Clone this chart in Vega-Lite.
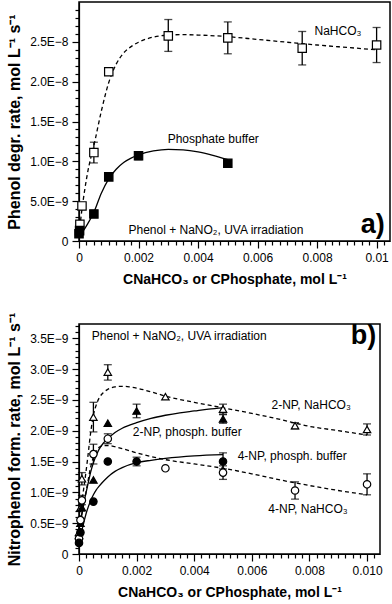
{
"$schema": "https://vega.github.io/schema/vega-lite/v6.json",
"padding": {"left": 5, "top": 1, "right": 0, "bottom": 0},
"bounds": "flush",
"spacing": 83,
"config": {
 "view": {"stroke": "black", "strokeWidth": 1.5},
 "axis": {"domainColor": "black", "domainWidth": 1.2, "tickColor": "black", "tickWidth": 1.2, "labelColor": "black", "titleColor": "black", "labelFont": "Liberation Sans", "titleFont": "Liberation Sans", "labelFontSize": 12, "titleFontSize": 16, "titleFontWeight": "bold", "grid": false, "labelFlush": false, "labelOverlap": false},
 "text": {"font": "Liberation Sans", "fontSize": 12, "color": "black"}
},
"datasets": {
 "pa": [
  {"s": "NaHCO3", "x": 0.00003, "y": 2.1e-9},
  {"s": "NaHCO3", "x": 0.0001, "y": 4.4e-9},
  {"s": "NaHCO3", "x": 0.0005, "y": 1.11e-8, "lo": 9.8e-9, "hi": 1.24e-8},
  {"s": "NaHCO3", "x": 0.001, "y": 2.125e-8},
  {"s": "NaHCO3", "x": 0.003, "y": 2.575e-8, "lo": 2.38e-8, "hi": 2.78e-8},
  {"s": "NaHCO3", "x": 0.005, "y": 2.55e-8, "lo": 2.35e-8, "hi": 2.75e-8},
  {"s": "NaHCO3", "x": 0.0075, "y": 2.42e-8, "lo": 2.21e-8, "hi": 2.63e-8},
  {"s": "NaHCO3", "x": 0.01, "y": 2.46e-8, "lo": 2.24e-8, "hi": 2.68e-8},
  {"s": "Phosphate", "x": 0, "y": 9e-10},
  {"s": "Phosphate", "x": 0.00002, "y": 1.3e-9},
  {"s": "Phosphate", "x": 0.0005, "y": 3.4e-9},
  {"s": "Phosphate", "x": 0.001, "y": 8.05e-9},
  {"s": "Phosphate", "x": 0.002, "y": 1.07e-8, "lo": 1.02e-8, "hi": 1.12e-8},
  {"s": "Phosphate", "x": 0.005, "y": 9.75e-9}
 ],
 "fa": [
  {"s": "NaHCO3", "x": 0, "y": 8e-10},
  {"s": "NaHCO3", "x": 0.0001, "y": 4.0e-9},
  {"s": "NaHCO3", "x": 0.0002, "y": 6.6e-9},
  {"s": "NaHCO3", "x": 0.0003, "y": 8.8e-9},
  {"s": "NaHCO3", "x": 0.0004, "y": 1.05e-8},
  {"s": "NaHCO3", "x": 0.0005, "y": 1.2e-8},
  {"s": "NaHCO3", "x": 0.00075, "y": 1.63e-8},
  {"s": "NaHCO3", "x": 0.001, "y": 1.99e-8},
  {"s": "NaHCO3", "x": 0.00125, "y": 2.22e-8},
  {"s": "NaHCO3", "x": 0.0015, "y": 2.36e-8},
  {"s": "NaHCO3", "x": 0.00175, "y": 2.44e-8},
  {"s": "NaHCO3", "x": 0.002, "y": 2.495e-8},
  {"s": "NaHCO3", "x": 0.0025, "y": 2.56e-8},
  {"s": "NaHCO3", "x": 0.003, "y": 2.585e-8},
  {"s": "NaHCO3", "x": 0.0035, "y": 2.59e-8},
  {"s": "NaHCO3", "x": 0.004, "y": 2.585e-8},
  {"s": "NaHCO3", "x": 0.005, "y": 2.565e-8},
  {"s": "NaHCO3", "x": 0.006, "y": 2.53e-8},
  {"s": "NaHCO3", "x": 0.007, "y": 2.495e-8},
  {"s": "NaHCO3", "x": 0.008, "y": 2.46e-8},
  {"s": "NaHCO3", "x": 0.009, "y": 2.43e-8},
  {"s": "NaHCO3", "x": 0.01, "y": 2.4e-8},
  {"s": "Phosphate", "x": 0, "y": 5e-10},
  {"s": "Phosphate", "x": 0.00025, "y": 1.9e-9},
  {"s": "Phosphate", "x": 0.0005, "y": 3.6e-9},
  {"s": "Phosphate", "x": 0.00075, "y": 6.0e-9},
  {"s": "Phosphate", "x": 0.001, "y": 7.8e-9},
  {"s": "Phosphate", "x": 0.00125, "y": 9.0e-9},
  {"s": "Phosphate", "x": 0.0015, "y": 9.85e-9},
  {"s": "Phosphate", "x": 0.00175, "y": 1.04e-8},
  {"s": "Phosphate", "x": 0.002, "y": 1.08e-8},
  {"s": "Phosphate", "x": 0.0025, "y": 1.13e-8},
  {"s": "Phosphate", "x": 0.003, "y": 1.15e-8},
  {"s": "Phosphate", "x": 0.0035, "y": 1.145e-8},
  {"s": "Phosphate", "x": 0.004, "y": 1.12e-8},
  {"s": "Phosphate", "x": 0.0045, "y": 1.075e-8},
  {"s": "Phosphate", "x": 0.005, "y": 1.02e-8}
 ],
 "la": [
  {"x": 0.0087, "y": 2.64e-8, "t": "NaHCO₃"},
  {"x": 0.00451, "y": 1.28e-8, "t": "Phosphate buffer"},
  {"x": 0.0046, "y": 1.37e-9, "t": "Phenol + NaNO₂, UVA irradiation"}
 ],
 "pb": [
  {"s": "2NP_NaHCO3", "x": 0, "y": 3.5e-10},
  {"s": "2NP_NaHCO3", "x": 0.00005, "y": 7.5e-10},
  {"s": "2NP_NaHCO3", "x": 0.0001, "y": 1.22e-9, "lo": 1.12e-9, "hi": 1.32e-9},
  {"s": "2NP_NaHCO3", "x": 0.0005, "y": 2.22e-9, "lo": 1.98e-9, "hi": 2.46e-9},
  {"s": "2NP_NaHCO3", "x": 0.001, "y": 2.95e-9, "lo": 2.82e-9, "hi": 3.07e-9},
  {"s": "2NP_NaHCO3", "x": 0.003, "y": 2.55e-9},
  {"s": "2NP_NaHCO3", "x": 0.005, "y": 2.35e-9, "lo": 2.27e-9, "hi": 2.43e-9},
  {"s": "2NP_NaHCO3", "x": 0.0075, "y": 2.08e-9, "lo": 2.03e-9, "hi": 2.13e-9},
  {"s": "2NP_NaHCO3", "x": 0.01, "y": 2.02e-9, "lo": 1.93e-9, "hi": 2.11e-9},
  {"s": "2NP_P", "x": 0, "y": 3e-10},
  {"s": "2NP_P", "x": 0.00005, "y": 5e-10},
  {"s": "2NP_P", "x": 0.0001, "y": 7.5e-10},
  {"s": "2NP_P", "x": 0.0005, "y": 1.2e-9},
  {"s": "2NP_P", "x": 0.001, "y": 2.12e-9},
  {"s": "2NP_P", "x": 0.002, "y": 2.32e-9, "lo": 2.21e-9, "hi": 2.43e-9},
  {"s": "2NP_P", "x": 0.005, "y": 2.19e-9, "lo": 2.12e-9, "hi": 2.26e-9},
  {"s": "4NP_NaHCO3", "x": 0, "y": 2.5e-10},
  {"s": "4NP_NaHCO3", "x": 0.00005, "y": 5.5e-10},
  {"s": "4NP_NaHCO3", "x": 0.0001, "y": 8.7e-10, "lo": 8e-10, "hi": 9.5e-10},
  {"s": "4NP_NaHCO3", "x": 0.0005, "y": 1.62e-9, "lo": 1.46e-9, "hi": 1.78e-9},
  {"s": "4NP_NaHCO3", "x": 0.001, "y": 1.87e-9, "lo": 1.79e-9, "hi": 1.95e-9},
  {"s": "4NP_NaHCO3", "x": 0.003, "y": 1.39e-9},
  {"s": "4NP_NaHCO3", "x": 0.005, "y": 1.32e-9, "lo": 1.21e-9, "hi": 1.43e-9},
  {"s": "4NP_NaHCO3", "x": 0.0075, "y": 1.03e-9, "lo": 8.9e-10, "hi": 1.17e-9},
  {"s": "4NP_NaHCO3", "x": 0.01, "y": 1.13e-9, "lo": 9.6e-10, "hi": 1.3e-9},
  {"s": "4NP_P", "x": 0, "y": 1.8e-10},
  {"s": "4NP_P", "x": 0.00005, "y": 3.5e-10},
  {"s": "4NP_P", "x": 0.0005, "y": 8.5e-10},
  {"s": "4NP_P", "x": 0.001, "y": 1.5e-9},
  {"s": "4NP_P", "x": 0.002, "y": 1.5e-9, "lo": 1.43e-9, "hi": 1.57e-9},
  {"s": "4NP_P", "x": 0.005, "y": 1.5e-9, "lo": 1.38e-9, "hi": 1.64e-9}
 ],
 "fb": [
  {"s": "2NP_NaHCO3", "x": 0, "y": 4.5e-10},
  {"s": "2NP_NaHCO3", "x": 0.0001, "y": 8.5e-10},
  {"s": "2NP_NaHCO3", "x": 0.0002, "y": 1.18e-9},
  {"s": "2NP_NaHCO3", "x": 0.0003, "y": 1.55e-9},
  {"s": "2NP_NaHCO3", "x": 0.0004, "y": 1.95e-9},
  {"s": "2NP_NaHCO3", "x": 0.0005, "y": 2.25e-9},
  {"s": "2NP_NaHCO3", "x": 0.0006, "y": 2.42e-9},
  {"s": "2NP_NaHCO3", "x": 0.0007, "y": 2.53e-9},
  {"s": "2NP_NaHCO3", "x": 0.00085, "y": 2.62e-9},
  {"s": "2NP_NaHCO3", "x": 0.001, "y": 2.67e-9},
  {"s": "2NP_NaHCO3", "x": 0.00125, "y": 2.71e-9},
  {"s": "2NP_NaHCO3", "x": 0.0015, "y": 2.72e-9},
  {"s": "2NP_NaHCO3", "x": 0.00175, "y": 2.71e-9},
  {"s": "2NP_NaHCO3", "x": 0.002, "y": 2.69e-9},
  {"s": "2NP_NaHCO3", "x": 0.0025, "y": 2.63e-9},
  {"s": "2NP_NaHCO3", "x": 0.003, "y": 2.56e-9},
  {"s": "2NP_NaHCO3", "x": 0.004, "y": 2.46e-9},
  {"s": "2NP_NaHCO3", "x": 0.005, "y": 2.37e-9},
  {"s": "2NP_NaHCO3", "x": 0.006, "y": 2.28e-9},
  {"s": "2NP_NaHCO3", "x": 0.007, "y": 2.18e-9},
  {"s": "2NP_NaHCO3", "x": 0.008, "y": 2.07e-9},
  {"s": "2NP_NaHCO3", "x": 0.009, "y": 2.0e-9},
  {"s": "2NP_NaHCO3", "x": 0.01, "y": 1.93e-9},
  {"s": "4NP_NaHCO3", "x": 0, "y": 4e-10},
  {"s": "4NP_NaHCO3", "x": 0.0001, "y": 6.5e-10},
  {"s": "4NP_NaHCO3", "x": 0.0002, "y": 8.9e-10},
  {"s": "4NP_NaHCO3", "x": 0.0003, "y": 1.15e-9},
  {"s": "4NP_NaHCO3", "x": 0.0004, "y": 1.4e-9},
  {"s": "4NP_NaHCO3", "x": 0.0005, "y": 1.57e-9},
  {"s": "4NP_NaHCO3", "x": 0.0006, "y": 1.67e-9},
  {"s": "4NP_NaHCO3", "x": 0.0007, "y": 1.73e-9},
  {"s": "4NP_NaHCO3", "x": 0.00085, "y": 1.76e-9},
  {"s": "4NP_NaHCO3", "x": 0.001, "y": 1.76e-9},
  {"s": "4NP_NaHCO3", "x": 0.00125, "y": 1.74e-9},
  {"s": "4NP_NaHCO3", "x": 0.0015, "y": 1.71e-9},
  {"s": "4NP_NaHCO3", "x": 0.002, "y": 1.64e-9},
  {"s": "4NP_NaHCO3", "x": 0.003, "y": 1.53e-9},
  {"s": "4NP_NaHCO3", "x": 0.004, "y": 1.46e-9},
  {"s": "4NP_NaHCO3", "x": 0.005, "y": 1.39e-9},
  {"s": "4NP_NaHCO3", "x": 0.006, "y": 1.3e-9},
  {"s": "4NP_NaHCO3", "x": 0.007, "y": 1.2e-9},
  {"s": "4NP_NaHCO3", "x": 0.008, "y": 1.11e-9},
  {"s": "4NP_NaHCO3", "x": 0.009, "y": 1.03e-9},
  {"s": "4NP_NaHCO3", "x": 0.01, "y": 9.6e-10},
  {"s": "2NP_P", "x": 0, "y": 4e-10},
  {"s": "2NP_P", "x": 0.0001, "y": 6.5e-10},
  {"s": "2NP_P", "x": 0.0002, "y": 9e-10},
  {"s": "2NP_P", "x": 0.0003, "y": 1.11e-9},
  {"s": "2NP_P", "x": 0.0004, "y": 1.32e-9},
  {"s": "2NP_P", "x": 0.0005, "y": 1.48e-9},
  {"s": "2NP_P", "x": 0.0006, "y": 1.6e-9},
  {"s": "2NP_P", "x": 0.0007, "y": 1.7e-9},
  {"s": "2NP_P", "x": 0.00085, "y": 1.8e-9},
  {"s": "2NP_P", "x": 0.001, "y": 1.87e-9},
  {"s": "2NP_P", "x": 0.00125, "y": 1.97e-9},
  {"s": "2NP_P", "x": 0.0015, "y": 2.04e-9},
  {"s": "2NP_P", "x": 0.002, "y": 2.13e-9},
  {"s": "2NP_P", "x": 0.0025, "y": 2.2e-9},
  {"s": "2NP_P", "x": 0.003, "y": 2.25e-9},
  {"s": "2NP_P", "x": 0.0035, "y": 2.29e-9},
  {"s": "2NP_P", "x": 0.004, "y": 2.32e-9},
  {"s": "2NP_P", "x": 0.0045, "y": 2.35e-9},
  {"s": "2NP_P", "x": 0.005, "y": 2.37e-9},
  {"s": "4NP_P", "x": 0, "y": 1.8e-10},
  {"s": "4NP_P", "x": 0.0001, "y": 3.8e-10},
  {"s": "4NP_P", "x": 0.00025, "y": 6.6e-10},
  {"s": "4NP_P", "x": 0.0004, "y": 8.6e-10},
  {"s": "4NP_P", "x": 0.0005, "y": 9.6e-10},
  {"s": "4NP_P", "x": 0.0006, "y": 1.04e-9},
  {"s": "4NP_P", "x": 0.0007, "y": 1.1e-9},
  {"s": "4NP_P", "x": 0.00085, "y": 1.18e-9},
  {"s": "4NP_P", "x": 0.001, "y": 1.25e-9},
  {"s": "4NP_P", "x": 0.00125, "y": 1.34e-9},
  {"s": "4NP_P", "x": 0.0015, "y": 1.4e-9},
  {"s": "4NP_P", "x": 0.002, "y": 1.48e-9},
  {"s": "4NP_P", "x": 0.0025, "y": 1.52e-9},
  {"s": "4NP_P", "x": 0.003, "y": 1.55e-9},
  {"s": "4NP_P", "x": 0.004, "y": 1.59e-9},
  {"s": "4NP_P", "x": 0.005, "y": 1.61e-9}
 ],
 "lb": [
  {"x": 0.00348, "y": 3.53e-9, "t": "Phenol + NaNO₂, UVA irradiation"},
  {"x": 0.00806, "y": 2.41e-9, "t": "2-NP, NaHCO₃"},
  {"x": 0.00376, "y": 1.98e-9, "t": "2-NP, phosph. buffer"},
  {"x": 0.0074, "y": 1.59e-9, "t": "4-NP, phosph. buffer"},
  {"x": 0.00795, "y": 7.3e-10, "t": "4-NP, NaHCO₃"}
 ]
},
"vconcat": [
 {
  "width": 311, "height": 239,
  "layer": [
   {
    "data": {"name": "pa"},
    "transform": [{"filter": "isValid(datum.lo)"}],
    "mark": {"type": "rule", "color": "black", "strokeWidth": 1.3},
    "encoding": {
     "x": {"field": "x", "type": "quantitative", "scale": {"domain": [0, 0.01045], "nice": false, "zero": false},
      "axis": {"orient": "bottom", "labelOverlap": false, "tickCount": 100, "values": [0,0.00025,0.0005,0.00075,0.001,0.00125,0.0015,0.00175,0.002,0.00225,0.0025,0.00275,0.003,0.00325,0.0035,0.00375,0.004,0.00425,0.0045,0.00475,0.005,0.00525,0.0055,0.00575,0.006,0.00625,0.0065,0.00675,0.007,0.00725,0.0075,0.00775,0.008,0.00825,0.0085,0.00875,0.009,0.00925,0.0095,0.00975,0.01,0.01025],
       "labelExpr": "abs(datum.value * 500 - round(datum.value * 500)) < 0.001 ? (datum.value == 0 ? '0' : format(datum.value, '.3~f')) : ''",
       "tickSize": {"condition": {"test": "abs(datum.value * 500 - round(datum.value * 500)) < 0.001", "value": 7}, "value": 4},
       "labelPadding": 4, "titlePadding": 9, "titleFontSize": 14, "title": "CNaHCO₃ or CPhosphate, mol L⁻¹"}},
     "y": {"field": "lo", "type": "quantitative", "scale": {"domain": [0, 3e-8], "nice": false, "zero": false},
      "axis": {"orient": "left", "labelOverlap": false, "tickCount": 100, "values": [0,1e-9,2e-9,3e-9,4e-9,5e-9,6e-9,7e-9,8e-9,9e-9,1e-8,1.1e-8,1.2e-8,1.3e-8,1.4e-8,1.5e-8,1.6e-8,1.7e-8,1.8e-8,1.9e-8,2e-8,2.1e-8,2.2e-8,2.3e-8,2.4e-8,2.5e-8,2.6e-8,2.7e-8,2.8e-8,2.9e-8],
       "labelExpr": "abs(datum.value * 200000000 - round(datum.value * 200000000)) < 0.001 ? (datum.value == 0 ? '0' : replace(upper(format(datum.value, '.1e')), '-', '−')) : ''",
       "tickSize": {"condition": {"test": "abs(datum.value * 200000000 - round(datum.value * 200000000)) < 0.001", "value": 7}, "value": 4},
       "labelPadding": 4, "titlePadding": 7, "title": "Phenol degr. rate, mol L⁻¹ s⁻¹"}},
     "y2": {"field": "hi"}
    }
   },
   {
    "data": {"name": "pa"},
    "transform": [{"filter": "isValid(datum.lo)"}],
    "mark": {"type": "tick", "orient": "horizontal", "color": "black", "size": 8, "thickness": 1.3},
    "encoding": {
     "x": {"field": "x", "type": "quantitative"},
     "y": {"field": "lo", "type": "quantitative"}
    }
   },
   {
    "data": {"name": "pa"},
    "transform": [{"filter": "isValid(datum.lo)"}],
    "mark": {"type": "tick", "orient": "horizontal", "color": "black", "size": 8, "thickness": 1.3},
    "encoding": {
     "x": {"field": "x", "type": "quantitative"},
     "y": {"field": "hi", "type": "quantitative"}
    }
   },
   {
    "data": {"name": "fa"},
    "transform": [{"filter": "datum.s == 'NaHCO3'"}],
    "mark": {"type": "line", "color": "black", "strokeWidth": 1.3, "interpolate": "monotone", "strokeDash": [4, 3]},
    "encoding": {
     "x": {"field": "x", "type": "quantitative"},
     "y": {"field": "y", "type": "quantitative"}
    }
   },
   {
    "data": {"name": "fa"},
    "transform": [{"filter": "datum.s == 'Phosphate'"}],
    "mark": {"type": "line", "color": "black", "strokeWidth": 1.3, "interpolate": "monotone"},
    "encoding": {
     "x": {"field": "x", "type": "quantitative"},
     "y": {"field": "y", "type": "quantitative"}
    }
   },
   {
    "data": {"name": "pa"},
    "mark": {"type": "point", "shape": "square", "filled": true, "stroke": "black", "strokeWidth": 1.2, "size": 70, "opacity": 1},
    "encoding": {
     "x": {"field": "x", "type": "quantitative"},
     "y": {"field": "y", "type": "quantitative"},
     "fill": {"field": "s", "type": "nominal", "scale": {"domain": ["NaHCO3", "Phosphate"], "range": ["white", "black"]}, "legend": null}
    }
   },
   {
    "data": {"name": "la"},
    "mark": {"type": "text", "fontSize": 12},
    "encoding": {
     "x": {"field": "x", "type": "quantitative"},
     "y": {"field": "y", "type": "quantitative"},
     "text": {"field": "t"}
    }
   },
   {
    "data": {"values": [{"x": 0.00987, "y": 2.0e-9, "t": "a)"}]},
    "mark": {"type": "text", "fontSize": 27, "fontWeight": "bold"},
    "encoding": {
     "x": {"field": "x", "type": "quantitative"},
     "y": {"field": "y", "type": "quantitative"},
     "text": {"field": "t"}
    }
   }
  ]
 },
 {
  "width": 301, "height": 230,
  "layer": [
   {
    "data": {"name": "pb"},
    "transform": [{"filter": "isValid(datum.lo)"}],
    "mark": {"type": "rule", "color": "black", "strokeWidth": 1.3},
    "encoding": {
     "x": {"field": "x", "type": "quantitative", "scale": {"domain": [0, 0.01045], "nice": false, "zero": false},
      "axis": {"orient": "bottom", "labelOverlap": false, "tickCount": 100, "values": [0,0.00025,0.0005,0.00075,0.001,0.00125,0.0015,0.00175,0.002,0.00225,0.0025,0.00275,0.003,0.00325,0.0035,0.00375,0.004,0.00425,0.0045,0.00475,0.005,0.00525,0.0055,0.00575,0.006,0.00625,0.0065,0.00675,0.007,0.00725,0.0075,0.00775,0.008,0.00825,0.0085,0.00875,0.009,0.00925,0.0095,0.00975,0.01,0.01025],
       "labelExpr": "abs(datum.value * 500 - round(datum.value * 500)) < 0.001 ? (datum.value == 0 ? '0' : format(datum.value, '.3f')) : ''",
       "tickSize": {"condition": {"test": "abs(datum.value * 500 - round(datum.value * 500)) < 0.001", "value": 7}, "value": 4},
       "labelPadding": 4, "titlePadding": 9, "titleFontSize": 14, "title": "CNaHCO₃ or CPhosphate, mol L⁻¹"}},
     "y": {"field": "lo", "type": "quantitative", "scale": {"domain": [0, 3.73e-9], "nice": false, "zero": false},
      "axis": {"orient": "left", "labelOverlap": false, "tickCount": 100, "values": [0,1e-10,2e-10,3e-10,4e-10,5e-10,6e-10,7e-10,8e-10,9e-10,1e-9,1.1e-9,1.2e-9,1.3e-9,1.4e-9,1.5e-9,1.6e-9,1.7e-9,1.8e-9,1.9e-9,2e-9,2.1e-9,2.2e-9,2.3e-9,2.4e-9,2.5e-9,2.6e-9,2.7e-9,2.8e-9,2.9e-9,3e-9,3.1e-9,3.2e-9,3.3e-9,3.4e-9,3.5e-9,3.6e-9,3.7e-9],
       "labelExpr": "abs(datum.value * 2000000000 - round(datum.value * 2000000000)) < 0.001 ? (datum.value == 0 ? '0' : format(datum.value * 1000000000, '.1f') + 'E−9') : ''",
       "tickSize": {"condition": {"test": "abs(datum.value * 2000000000 - round(datum.value * 2000000000)) < 0.001", "value": 7}, "value": 4},
       "labelPadding": 4, "titlePadding": 7, "title": "Nitrophenol form. rate, mol L⁻¹ s⁻¹"}},
     "y2": {"field": "hi"}
    }
   },
   {
    "data": {"name": "pb"},
    "transform": [{"filter": "isValid(datum.lo)"}],
    "mark": {"type": "tick", "orient": "horizontal", "color": "black", "size": 8, "thickness": 1.3},
    "encoding": {
     "x": {"field": "x", "type": "quantitative"},
     "y": {"field": "lo", "type": "quantitative"}
    }
   },
   {
    "data": {"name": "pb"},
    "transform": [{"filter": "isValid(datum.lo)"}],
    "mark": {"type": "tick", "orient": "horizontal", "color": "black", "size": 8, "thickness": 1.3},
    "encoding": {
     "x": {"field": "x", "type": "quantitative"},
     "y": {"field": "hi", "type": "quantitative"}
    }
   },
   {
    "data": {"name": "fb"},
    "transform": [{"filter": "datum.s == '2NP_NaHCO3' || datum.s == '4NP_NaHCO3'"}],
    "mark": {"type": "line", "color": "black", "strokeWidth": 1.3, "interpolate": "monotone", "strokeDash": [4, 3]},
    "encoding": {
     "x": {"field": "x", "type": "quantitative"},
     "y": {"field": "y", "type": "quantitative"},
     "detail": {"field": "s"}
    }
   },
   {
    "data": {"name": "fb"},
    "transform": [{"filter": "datum.s == '2NP_P' || datum.s == '4NP_P'"}],
    "mark": {"type": "line", "color": "black", "strokeWidth": 1.3, "interpolate": "monotone"},
    "encoding": {
     "x": {"field": "x", "type": "quantitative"},
     "y": {"field": "y", "type": "quantitative"},
     "detail": {"field": "s"}
    }
   },
   {
    "data": {"name": "pb"},
    "mark": {"type": "point", "filled": true, "stroke": "black", "strokeWidth": 1.2, "size": 55, "opacity": 1},
    "encoding": {
     "x": {"field": "x", "type": "quantitative"},
     "y": {"field": "y", "type": "quantitative"},
     "shape": {"field": "s", "type": "nominal", "scale": {"domain": ["2NP_NaHCO3", "2NP_P", "4NP_NaHCO3", "4NP_P"], "range": ["triangle-up", "triangle-up", "circle", "circle"]}, "legend": null},
     "fill": {"field": "s", "type": "nominal", "scale": {"domain": ["2NP_NaHCO3", "2NP_P", "4NP_NaHCO3", "4NP_P"], "range": ["white", "black", "white", "black"]}, "legend": null}
    }
   },
   {
    "data": {"name": "lb"},
    "mark": {"type": "text", "fontSize": 12},
    "encoding": {
     "x": {"field": "x", "type": "quantitative"},
     "y": {"field": "y", "type": "quantitative"},
     "text": {"field": "t"}
    }
   },
   {
    "data": {"values": [{"x": 0.00988, "y": 3.53e-9, "t": "b)"}]},
    "mark": {"type": "text", "fontSize": 27, "fontWeight": "bold"},
    "encoding": {
     "x": {"field": "x", "type": "quantitative"},
     "y": {"field": "y", "type": "quantitative"},
     "text": {"field": "t"}
    }
   }
  ]
 }
]
}
